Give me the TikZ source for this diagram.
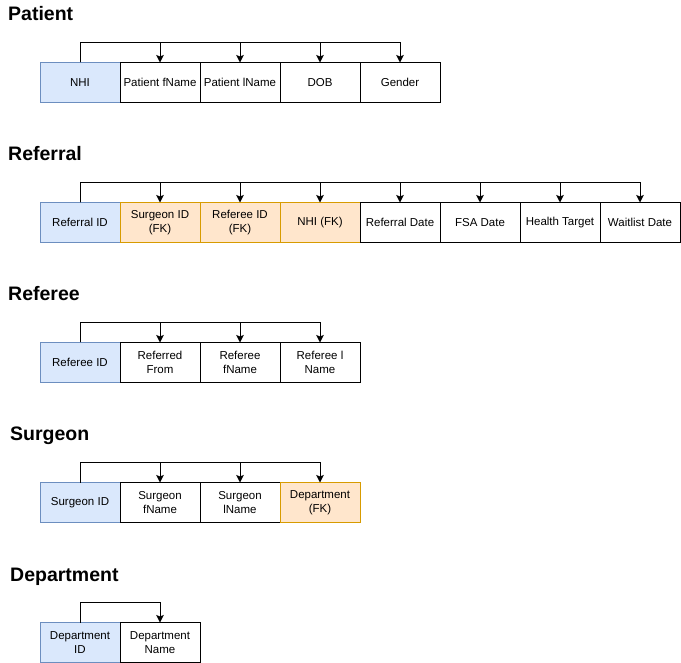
\documentclass[tikz,border=0pt]{standalone}
\usepackage{fontspec}
\setmainfont{Liberation Sans}
\usepackage{tikz}
\usetikzlibrary{arrows.meta, positioning}
\definecolor{pkfill}{HTML}{DAE8FC}
\definecolor{pkline}{HTML}{6C8EBF}
\definecolor{fkfill}{HTML}{FFE6CC}
\definecolor{fkline}{HTML}{D79B00}
\tikzstyle{attr} = [
    rectangle,
    minimum width=80pt,
    minimum height=40pt,
    inner sep=0pt,
    outer sep=0pt,
    align=center,
    line width=1pt,
    draw=black,
    fill=white,
    font=\fontsize{11.5}{14}\selectfont
]
\tikzstyle{pk} = [attr, draw=pkline, fill=pkfill]
\tikzstyle{fk} = [attr, draw=fkline, fill=fkfill]
\tikzstyle{title} = [
    anchor=base west,
    inner sep=0pt,
    font=\fontsize{19.5}{22}\selectfont\bfseries
]
\tikzstyle{arrow} = [
    line width=1pt,
    -{Stealth[length=7.5pt, width=7.5pt, inset=1.5pt]},
    color=black
]
\begin{document}
\begin{tikzpicture}[x=1pt, y=-1pt, node distance=0pt]
        \useasboundingbox (0,0) rectangle (681,663);

        % Patient
        \node[title] (tpatient) at (8,21) {Patient};
        \node[pk] (nhi) at (80,82.5) {NHI};
        \node[attr, right=of nhi] (pfname) {Patient fName};
        \node[attr, right=of pfname] (plname) {Patient lName};
        \node[attr, right=of plname] (dob) {DOB};
        \node[attr, right=of dob] (gender) {Gender};
        \foreach \t in {pfname, plname, dob, gender}
            \draw[arrow] (nhi.north) |- ([yshift=20pt]\t.north) -- (\t.north);

        % Referral
        \node[title] (treferral) at (8,161) {Referral};
        \node[pk] (refid) at (80,222.5) {Referral ID};
        \node[fk, right=of refid] (rsurg) {Surgeon ID\\(FK)};
        \node[fk, right=of rsurg] (rref) {Referee ID\\(FK)};
        \node[fk, right=of rref] (rnhi) {NHI (FK)};
        \node[attr, right=of rnhi] (rdate) {Referral Date};
        \node[attr, right=of rdate] (fsa) {FSA Date};
        \node[attr, right=of fsa] (health) {Health Target};
        \node[attr, right=of health] (wait) {Waitlist Date};
        \foreach \t in {rsurg, rref, rnhi, rdate, fsa, health, wait}
            \draw[arrow] (refid.north) |- ([yshift=20pt]\t.north) -- (\t.north);

        % Referee
        \node[title] (treferee) at (8,301) {Referee};
        \node[pk] (refeeid) at (80,362.5) {Referee ID};
        \node[attr, right=of refeeid] (from) {Referred\\From};
        \node[attr, right=of from] (efname) {Referee\\fName};
        \node[attr, right=of efname] (elname) {Referee l\\Name};
        \foreach \t in {from, efname, elname}
            \draw[arrow] (refeeid.north) |- ([yshift=20pt]\t.north) -- (\t.north);

        % Surgeon
        \node[title] (tsurgeon) at (10,441) {Surgeon};
        \node[pk] (surgid) at (80,502.5) {Surgeon ID};
        \node[attr, right=of surgid] (sfname) {Surgeon\\fName};
        \node[attr, right=of sfname] (slname) {Surgeon\\lName};
        \node[fk, right=of slname] (sdept) {Department\\(FK)};
        \foreach \t in {sfname, slname, sdept}
            \draw[arrow] (surgid.north) |- ([yshift=20pt]\t.north) -- (\t.north);

        % Department
        \node[title] (tdept) at (10,581) {Department};
        \node[pk] (deptid) at (80,642.5) {Department\\ID};
        \node[attr, right=of deptid] (dname) {Department\\Name};
        \draw[arrow] (deptid.north) |- ([yshift=20pt]dname.north) -- (dname.north);
    \end{tikzpicture}
\end{document}
